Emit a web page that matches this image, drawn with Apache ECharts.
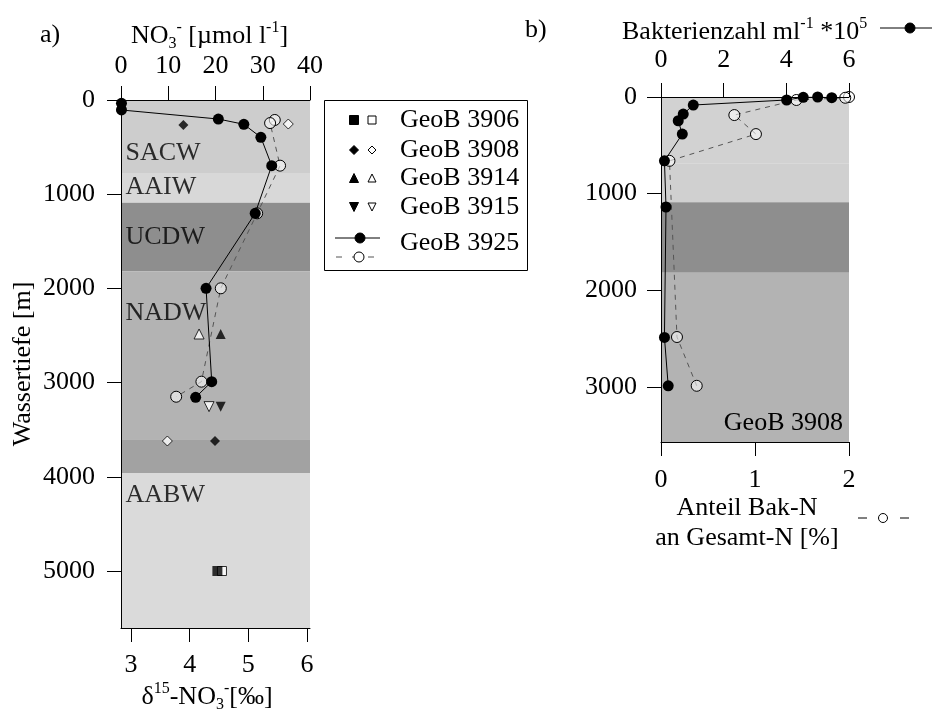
<!DOCTYPE html>
<html><head><meta charset="utf-8">
<script src="https://cdn.jsdelivr.net/npm/echarts@6/dist/echarts.min.js"></script>
<style>html,body{margin:0;padding:0;background:#fff}#c{width:932px;height:709px}</style>
</head><body><div id="c"></div>
<script>
// ---------- DATA (panel a) ----------
// GeoB 3925: nitrate concentration (filled circles, solid line, top axis)
const st3925No3 = [0.1, 0.1, 20.6, 26.0, 29.6, 31.9, 28.4, 18.0, 19.2, 15.8];
const st3925No3Depth = [35, 106, 202, 258, 396, 697, 1203, 1999, 2990, 3156];
// GeoB 3925: d15N nitrate (open circles, dashed line, bottom axis)
const st3925D15N = [5.45, 5.37, 5.54, 5.15, 4.53, 4.20, 3.77];
const st3925D15NDepth = [212, 245, 697, 1203, 1999, 2990, 3150];
// other stations
const st3906No3 = [20.4], st3906No3Depth = [5000];
const st3906D15N = [4.55], st3906D15NDepth = [5000];
const st3908No3 = [13.2, 19.9], st3908No3Depth = [265, 3620];
const st3908D15N = [5.68, 3.62], st3908D15NDepth = [255, 3620];
const st3914No3 = [21.1], st3914No3Depth = [2484];
const st3914D15N = [4.16], st3914D15NDepth = [2484];
const st3915No3 = [21.1], st3915No3Depth = [3255];
const st3915D15N = [4.33], st3915D15NDepth = [3255];

// water masses (panel a)
const waterMassNames = ['SACW', 'AAIW', 'UCDW', 'NADW', 'AABW'];
const waterMassLabelDepth = [563, 924, 1454, 2261, 4193];
const bandLimitsA = [[0, 775], [775, 1090], [1090, 1820], [1820, 3600], [3600, 3960], [3960, 5605]];
const bandLimitsB = [[0, 690], [690, 1090], [1090, 1820], [1820, 3572]];

// tick labels
const d15NTicks = [3, 4, 5, 6];
const depthTicksA = [0, 1000, 2000, 3000, 4000, 5000];
const depthTicksB = [0, 1000, 2000, 3000];

// ---------- DATA (panel b, GeoB 3908) ----------
const bacCount = [5.45, 5.0, 4.54, 4.01, 1.03, 0.71, 0.55, 0.68, 0.11, 0.16, 0.11, 0.23];
const bacDepth = [7, 0, 3, 31, 83, 177, 246, 384, 661, 1139, 2489, 2990];
const bakNShare = [2.0, 1.96, 1.44, 0.78, 1.01, 0.09, 0.17, 0.38];
const bakNDepth = [0, 8, 31, 187, 384, 661, 2485, 2990];

const legendNames = ['GeoB 3906', 'GeoB 3908', 'GeoB 3914', 'GeoB 3915', 'GeoB 3925'];

// ---------- STYLE ----------
const FONT = "'Liberation Serif','Times New Roman',serif";
const FS = 26;
const colorsA = ['#cdcdcd', '#d8d8d8', '#8e8e8e', '#b3b3b3', '#a2a2a2', '#dadada'];
const colorsB = ['#d2d2d2', '#d0d0d0', '#8e8e8e', '#b3b3b3'];
const xMinA = 2.83, xMaxA = 6.05, yMaxA = 5605, yMaxB = 3572;

const zip = (xs, ys) => xs.map((v, i) => [v, ys[i]]);
const blk = { color: '#000', width: 1 };
const plain = v => String(v);
const richSS = {
  sup: { fontSize: 16, fontFamily: FONT, color: '#000', verticalAlign: 'top', lineHeight: 16 },
  sub: { fontSize: 16, fontFamily: FONT, color: '#000', verticalAlign: 'bottom', lineHeight: 16 }
};
function axisBase(extra) {
  return Object.assign({
    type: 'value', z: 5, nameMoveOverlap: false,
    axisLine: { show: true, onZero: false, lineStyle: blk },
    axisTick: { show: true, length: 14, lineStyle: blk },
    axisLabel: { color: '#000', fontSize: FS, fontFamily: FONT, formatter: plain },
    splitLine: { show: false },
    nameTextStyle: { color: '#000', fontSize: FS, fontFamily: FONT, lineHeight: 32, rich: richSS }
  }, extra);
}
function merge(a, b) { for (const k in b) { if (b[k] && typeof b[k] === 'object' && !Array.isArray(b[k]) && a[k]) Object.assign(a[k], b[k]); else a[k] = b[k]; } return a; }

const xAxes = [
  merge(axisBase({ gridIndex: 0, position: 'bottom', min: xMinA, max: xMaxA,
    name: '{n|δ}{sup|15}-NO{sub|3}{sup|-}[‰]', nameLocation: 'middle', nameGap: 53 }),
    { axisTick: { customValues: d15NTicks }, axisLabel: { customValues: d15NTicks, margin: 24 },
      nameTextStyle: { padding: [0, 17, 0, 0] } }),
  merge(axisBase({ gridIndex: 0, position: 'top', min: 0, max: 40, interval: 10,
    name: 'NO{sub|3}{sup|-} [µmol l{sup|-1}]', nameLocation: 'middle', nameGap: 48 }),
    { axisLabel: { margin: 21 }, nameTextStyle: { padding: [0, 12, 0, 0] } }),
  merge(axisBase({ gridIndex: 1, position: 'top', min: 0, max: 6, interval: 2 }),
    { axisLabel: { margin: 24 } }),
  merge(axisBase({ gridIndex: 1, position: 'bottom', min: 0, max: 2, interval: 1,
    name: 'Anteil Bak-N\nan Gesamt-N [%]', nameLocation: 'middle', nameGap: 51 }),
    { axisLabel: { margin: 25 }, nameTextStyle: { lineHeight: 30, padding: [0, 16, 0, 0] } })
];
const yAxes = [
  merge(axisBase({ gridIndex: 0, inverse: true, min: 0, max: yMaxA,
    name: 'Wassertiefe [m]', nameLocation: 'middle', nameGap: 82 }),
    { axisTick: { customValues: depthTicksA }, axisLabel: { customValues: depthTicksA, margin: 26 } }),
  merge(axisBase({ gridIndex: 1, inverse: true, min: 0, max: yMaxB }),
    { axisTick: { customValues: depthTicksB }, axisLabel: { customValues: depthTicksB, margin: 24 } })
];

const filled = { color: '#000' };
const open = { color: '#fff', borderColor: '#000', borderWidth: 1 };
function pts(name, xi, yi, data, symbol, size, style, rot, z) {
  return { name, type: 'scatter', xAxisIndex: xi, yAxisIndex: yi, data, symbol, symbolSize: size,
    symbolRotate: rot || 0, itemStyle: style, z: z || 3, silent: true };
}

const series = [
  { type: 'scatter', xAxisIndex: 0, yAxisIndex: 0, data: [], z: 1, silent: true,
    markArea: { silent: true, data: bandLimitsA.map((b, i) => [{ yAxis: b[0], itemStyle: { color: colorsA[i] } }, { yAxis: b[1] }]) } },
  { type: 'scatter', xAxisIndex: 3, yAxisIndex: 1, data: [], z: 1, silent: true,
    markArea: { silent: true, data: bandLimitsB.map((b, i) => [{ yAxis: b[0], itemStyle: { color: colorsB[i] } }, { yAxis: b[1] }]) } },
  { type: 'scatter', xAxisIndex: 0, yAxisIndex: 0, silent: true, z: 3, symbolSize: 1,
    itemStyle: { color: 'transparent' },
    data: waterMassNames.map((n, i) => ({ name: n, value: [xMinA, waterMassLabelDepth[i]] })),
    label: { show: true, position: 'right', distance: 4, formatter: '{b}', color: '#000', fontSize: FS, fontFamily: FONT } },
  pts('GeoB 3906', 0, 0, zip(st3906D15N, st3906D15NDepth), 'rect', 9, open),
  pts('GeoB 3906', 1, 0, zip(st3906No3, st3906No3Depth), 'rect', 10, filled, 0, 4),
  pts('GeoB 3908', 0, 0, zip(st3908D15N, st3908D15NDepth), 'diamond', 10, open),
  pts('GeoB 3908', 1, 0, zip(st3908No3, st3908No3Depth), 'diamond', 10, filled),
  pts('GeoB 3914', 0, 0, zip(st3914D15N, st3914D15NDepth), 'triangle', 10, open),
  pts('GeoB 3914', 1, 0, zip(st3914No3, st3914No3Depth), 'triangle', 10, filled),
  pts('GeoB 3915', 0, 0, zip(st3915D15N, st3915D15NDepth), 'triangle', 10, open, 180),
  pts('GeoB 3915', 1, 0, zip(st3915No3, st3915No3Depth), 'triangle', 10, filled, 180),
  { name: 'GeoB 3925 δ15N', type: 'line', xAxisIndex: 0, yAxisIndex: 0, data: zip(st3925D15N, st3925D15NDepth),
    symbol: 'circle', symbolSize: 11, showAllSymbol: true, z: 3, silent: true,
    lineStyle: { color: '#555', width: 1, type: [5, 5] }, itemStyle: { color: 'rgba(255,255,255,0.55)', borderColor: '#000', borderWidth: 1 } },
  { name: 'GeoB 3925 NO3', type: 'line', xAxisIndex: 1, yAxisIndex: 0, data: zip(st3925No3, st3925No3Depth),
    symbol: 'circle', symbolSize: 11, showAllSymbol: true, z: 4, silent: true,
    lineStyle: { color: '#000', width: 1 }, itemStyle: { color: '#000' } },
  { name: 'Anteil Bak-N', type: 'line', xAxisIndex: 3, yAxisIndex: 1, data: zip(bakNShare, bakNDepth),
    symbol: 'circle', symbolSize: 11, showAllSymbol: true, z: 3, silent: true,
    lineStyle: { color: '#555', width: 1, type: [5, 5] }, itemStyle: { color: 'rgba(255,255,255,0.55)', borderColor: '#000', borderWidth: 1 } },
  { name: 'Bakterienzahl', type: 'line', xAxisIndex: 2, yAxisIndex: 1, data: zip(bacCount, bacDepth),
    symbol: 'circle', symbolSize: 11, showAllSymbol: true, z: 4, silent: true,
    lineStyle: { color: '#000', width: 1 }, itemStyle: { color: '#000' } }
];

// ---------- legend & annotations (graphic) ----------
function txt(text, x, y, align, extra) {
  return Object.assign({ type: 'text', silent: true, z: 10,
    style: Object.assign({ text, x, y, fill: '#000', fontSize: FS, fontFamily: FONT,
      textAlign: align || 'left', textVerticalAlign: 'middle', align: align || 'left', verticalAlign: 'middle' }, extra || {}) });
}
function sym(kind, cx, cy, s, isFilled) {
  const st = isFilled ? { fill: '#000', stroke: '#000', lineWidth: 1 } : { fill: '#fff', stroke: '#000', lineWidth: 1 };
  const h = s / 2;
  let shape;
  if (kind === 'rect') return { type: 'rect', z: 10, silent: true, shape: { x: cx - h, y: cy - h, width: s, height: s }, style: st };
  if (kind === 'circle') return { type: 'circle', z: 10, silent: true, shape: { cx, cy, r: h }, style: st };
  if (kind === 'diamond') shape = [[cx, cy - h], [cx + h, cy], [cx, cy + h], [cx - h, cy]];
  if (kind === 'tri') shape = [[cx, cy - h], [cx + h, cy + h], [cx - h, cy + h]];
  if (kind === 'itri') shape = [[cx - h, cy - h], [cx + h, cy - h], [cx, cy + h]];
  return { type: 'polygon', z: 10, silent: true, shape: { points: shape }, style: st };
}
const legendRowY = [120, 150, 178, 207, 243];
const legendKinds = ['rect', 'diamond', 'tri', 'itri'];
const graphics = [
  { type: 'rect', z: 9, silent: true, shape: { x: 324.5, y: 100.5, width: 203, height: 170 }, style: { fill: '#fff', stroke: '#000', lineWidth: 1 } },
  txt('a)', 40, 35), txt('b)', 525, 30),
  txt('GeoB 3908', 843, 423, 'right'),
  txt('Bakterienzahl ml{sup|-1} *10{sup|5}', 622, 32, 'left', { rich: richSS, lineHeight: 32 }),
  { type: 'line', z: 10, silent: true, shape: { x1: 880, y1: 28, x2: 932, y2: 28 }, style: { stroke: '#000', lineWidth: 1 } },
  sym('circle', 910, 28, 10, true),
  { type: 'line', z: 10, silent: true, shape: { x1: 858, y1: 518, x2: 867, y2: 518 }, style: { stroke: '#000', lineWidth: 1 } },
  { type: 'line', z: 10, silent: true, shape: { x1: 900, y1: 518, x2: 909, y2: 518 }, style: { stroke: '#000', lineWidth: 1 } },
  sym('circle', 883, 518, 9, false),
  { type: 'line', z: 10, silent: true, shape: { x1: 335, y1: 238, x2: 380, y2: 238 }, style: { stroke: '#000', lineWidth: 1 } },
  sym('circle', 360, 238, 10, true),
  { type: 'line', z: 10, silent: true, shape: { x1: 336, y1: 257, x2: 382, y2: 257 }, style: { stroke: '#555', lineWidth: 1, lineDash: [6, 10] } },
  sym('circle', 359, 257, 10, false)
];
legendNames.forEach((n, i) => {
  graphics.push(txt(n, 400, legendRowY[i]));
  if (i < 4) {
    graphics.push(sym(legendKinds[i], 354, legendRowY[i], 9, true));
    graphics.push(sym(legendKinds[i], 372, legendRowY[i], 8, false));
  }
});

const chart = echarts.init(document.getElementById('c'));
chart.setOption({
  animation: false,
  backgroundColor: '#fff',
  textStyle: { fontFamily: FONT },
  grid: [
    { left: 121, top: 100, width: 189, height: 528, outerBoundsMode: 'none' },
    { left: 661, top: 97, width: 188, height: 345, outerBoundsMode: 'none' }
  ],
  xAxis: xAxes,
  yAxis: yAxes,
  series,
  graphic: graphics
});
</script></body></html>
